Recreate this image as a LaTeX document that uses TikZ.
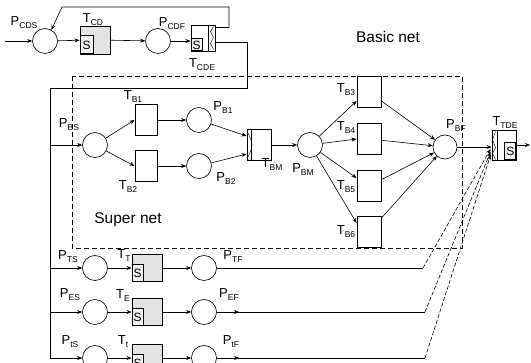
\documentclass[tikz,border=0pt]{standalone}
\usepackage{fontspec}
\setmainfont{Liberation Sans}
\usepackage{tikz}
\usetikzlibrary{positioning,calc,arrows.meta}
\newcommand{\pn}[2]{#1\raisebox{-3pt}{\fontsize{8.5}{9}\selectfont #2}}

\begin{document}
\begin{tikzpicture}[x=1pt, y=-1pt, >=Stealth, font=\fontsize{13}{14}\selectfont,
  place/.style={circle, draw, line width=0.6pt, minimum size=25pt, inner sep=0pt},
  tbox/.style={draw, line width=0.9pt, minimum width=23pt, minimum height=31pt, inner sep=0pt},
  tdbox/.style={draw, line width=0.9pt, fill=gray!22, minimum width=30pt, minimum height=28pt, inner sep=0pt},
  sbox/.style={draw, line width=1pt, fill=gray!10, minimum width=12pt, minimum height=17pt,
               inner sep=0pt, anchor=south west, font=\fontsize{12}{12}\selectfont},
  lbl/.style={inner sep=0pt},
  wire/.style={line width=0.6pt},
  arr/.style={-{Stealth[length=5pt,width=4pt]}, line width=0.6pt},
  fire/.style={arr, dash pattern=on 4pt off 2pt},
  netbox/.style={line width=0.7pt, dash pattern=on 5pt off 3pt}]
  \useasboundingbox (0,0) rectangle (531,363);
  % --- super net frame
  \draw[netbox] (72,76) rectangle (462,248);
  \node[lbl] (basic) at (388,37) {\fontsize{15.5}{16}\selectfont Basic net};
  \node[lbl] (super) at (128,220) {\fontsize{15.5}{16}\selectfont Super net};
  % --- top row (CD)
  \coordinate (in) at (5,41);
  \node[place] (pcds) at (45,41) {};
  \node[tdbox] (tcd) at (95,40) {};
  \node[sbox, minimum width=13pt, minimum height=18pt] (scd) at (tcd.south west) {S};
  \node[place] (pcdf) at (158,41) {};
  \node[tbox, minimum width=24pt, minimum height=26pt] (tcde) at (203,38) {};
  \node[sbox, minimum width=11pt, minimum height=12pt] (scde) at (tcde.south west) {S};
  \draw[line width=0.5pt] ($(tcde.north east)+(-7,0)$) -- ($(tcde.south east)+(-7,0)$);
  \draw[line width=0.4pt] ($(tcde.north east)+(-2,2)$) -- ++(-3,5) -- ++(3,6) -- ++(-3,6) -- ++(3,6);
  \node[lbl] (lpcds) at (24,23) {\pn{P}{CDS}};
  \node[lbl] (ltcd)  at (93,20) {\pn{T}{CD}};
  \node[lbl] (lpcdf) at (172,24) {\pn{P}{CDF}};
  \node[lbl] (ltcde) at (202,65) {\pn{T}{CDE}};
  % --- super net
  \node[place] (pbs) at (95,145) {};
  \node[tbox, minimum width=22pt] (tb1) at (146,120) {};
  \node[tbox, minimum width=22pt] (tb2) at (146,166) {};
  \node[place] (pb1) at (199,120) {};
  \node[place] (pb2) at (199,166) {};
  \node[tbox, minimum width=24pt] (tbm) at (259,145) {};
  \draw[line width=0.5pt] ($(tbm.north west)+(5,0)$) -- ($(tbm.south west)+(5,0)$);
  \draw[line width=0.4pt] ($(tbm.north west)+(1,3)$) .. controls ($(tbm.west)+(7,0)$) .. ($(tbm.south west)+(1,-3)$);
  \node[place] (pbm) at (310,145) {};
  \node[tbox, minimum width=24pt] (tb3) at (369,92) {};
  \node[tbox, minimum width=24pt] (tb4) at (369,139) {};
  \node[tbox, minimum width=24pt] (tb5) at (369,186) {};
  \node[tbox, minimum width=24pt] (tb6) at (369,232) {};
  \node[place, minimum size=24pt] (pbf) at (445,147) {};
  \node[tbox, minimum width=24pt, minimum height=30pt] (ttde) at (504,145) {};
  \node[sbox, anchor=south east, minimum width=11pt] (stde) at (ttde.south east) {S};
  \draw[line width=0.5pt] ($(ttde.north west)+(6,0)$) -- ($(ttde.south west)+(6,0)$);
  \draw[line width=0.4pt] ($(ttde.north west)+(4,2)$) -- ++(-3,8) -- ++(3,8) -- ++(-3,6) -- ++(3,6);
  \coordinate (out) at (530,145);
  \node[lbl] (lpbs) at (69,125) {\pn{P}{BS}};
  \node[lbl] (ltb1) at (133,97) {\pn{T}{B1}};
  \node[lbl] (ltb2) at (128,187) {\pn{T}{B2}};
  \node[lbl] (lpb1) at (223,108) {\pn{P}{B1}};
  \node[lbl] (lpb2) at (226,179) {\pn{P}{B2}};
  \node[lbl] (ltbm) at (272,165) {\pn{T}{BM}};
  \node[lbl] (lpbm) at (303,170) {\pn{P}{BM}};
  \node[lbl] (ltb3) at (346,90) {\pn{T}{B3}};
  \node[lbl] (ltb4) at (346,128) {\pn{T}{B4}};
  \node[lbl] (ltb5) at (346,187) {\pn{T}{B5}};
  \node[lbl] (ltb6) at (346,232) {\pn{T}{B6}};
  \node[lbl] (lpbf) at (456,126) {\pn{P}{BF}};
  \node[lbl] (lttde) at (505,123) {\pn{T}{TDE}};
  % --- lower rows (T, E, t)
  \node[place] (pts) at (95,268) {};
  \node[tdbox, minimum height=27pt] (tt) at (147,268) {};
  \node[sbox, minimum width=11pt] (stt) at (tt.south west) {S};
  \node[place] (ptf) at (204,268) {};
  \node[place] (pes) at (95,312) {};
  \node[tdbox, minimum height=27pt] (te) at (147,312) {};
  \node[sbox, minimum width=11pt] (ste) at (te.south west) {S};
  \node[place] (pef) at (204,312) {};
  \node[place] (pis) at (95,358) {};
  \node[tdbox, minimum height=27pt] (ti) at (147,358) {};
  \node[sbox, minimum width=11pt] (sti) at (ti.south west) {S};
  \node[place] (pif) at (204,358) {};
  \node[lbl] (lpts) at (68,257) {\pn{P}{TS}};
  \node[lbl] (ltt)  at (124,256) {\pn{T}{T}};
  \node[lbl] (lptf) at (233,257) {\pn{P}{TF}};
  \node[lbl] (lpes) at (70,295) {\pn{P}{ES}};
  \node[lbl] (lte)  at (123,296) {\pn{T}{E}};
  \node[lbl] (lpef) at (229,295) {\pn{P}{EF}};
  \node[lbl] (lpis) at (70,342) {\pn{P}{tS}};
  \node[lbl] (lti)  at (123,342) {\pn{T}{t}};
  \node[lbl] (lpif) at (231,342) {\pn{P}{tF}};
  \coordinate (kt) at (423,268);
  \coordinate (ke) at (425,312);
  \coordinate (ki) at (425,358);
  % --- top row arcs
  \coordinate (fbr) at (229,7);
  \coordinate (fbl) at (62,7);
  \coordinate (turn) at (247,88);
  \coordinate (bus) at (50,88);
  \draw[arr] (in) -- (pcds);
  \draw[arr] (pcds) -- (tcd);
  \draw[arr] (tcd) -- (pcdf);
  \draw[arr] (pcdf) -- (pcdf -| tcde.west);
  \draw[arr] ($(tcde.north east)+(0,3)$) -| (fbr) -- (fbl) -- (pcds.60);
  \draw[wire] ($(tcde.east)+(0,4)$) -| (turn) -- (bus) -- (bus |- pis);
  % --- feeding the nets from the bus
  \draw[arr] (bus |- pbs) -- (pbs);
  \draw[arr] (bus |- pts) -- (pts);
  \draw[arr] (bus |- pes) -- (pes);
  \draw[arr] (bus |- pis) -- (pis);
  % --- super net arcs
  \draw[arr] (pbs) -- (tb1.west);
  \draw[arr] (pbs) -- (tb2.west);
  \draw[arr] (tb1) -- (pb1);
  \draw[arr] (tb2) -- (pb2);
  \draw[arr] (pb1) -- ($(tbm.west)+(0,-9)$);
  \draw[arr] (pb2) -- ($(tbm.west)+(0,9)$);
  \draw[arr] (tbm) -- (pbm);
  \draw[arr] (pbm) -- ($(tb3.west)+(0,9)$);
  \draw[arr] (pbm) -- (tb4.west);
  \draw[arr] (pbm) -- ($(tb5.west)+(0,-8)$);
  \draw[arr] (pbm) -- ($(tb6.west)+(0,-9)$);
  \foreach \t in {tb3,tb4,tb5,tb6}
    \draw[arr] (\t) -- (pbf);
  \draw[arr] (pbf) -- (pbf -| ttde.west);
  \draw[arr] (ttde) -- (out);
  % --- lower rows arcs
  \foreach \s/\t/\f in {pts/tt/ptf, pes/te/pef, pis/ti/pif} {
    \draw[arr] (\s) -- (\t);
    \draw[arr] (\t) -- (\f);
  }
  \draw[wire] (ptf) -- (kt);
  \draw[wire] (pef) -- (ke);
  \draw[arr] (pef) -- ++(35,0);
  \draw[wire] (pif) -- (ki);
  \draw[arr] (pif) -- ++(35,0);
  \draw[fire] (kt) -- ($(ttde.west)+(-1,4)$);
  \draw[fire] (ke) -- ($(ttde.west)+(-1,7)$);
  \draw[fire] (ki) -- ($(ttde.west)+(-1,10)$);
\end{tikzpicture}
\end{document}
